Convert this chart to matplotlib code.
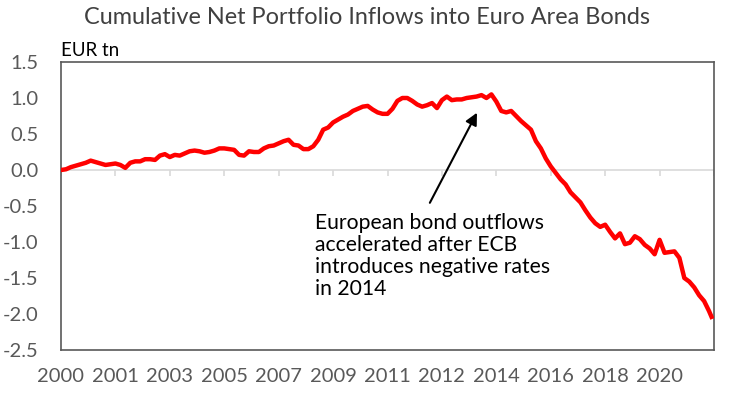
import numpy as np
import matplotlib
matplotlib.use("Agg")
import matplotlib.pyplot as plt

plt.rcParams['font.family'] = ['Lato', 'DejaVu Sans']

# month index since Jan 2000 (sampled every 2 months, plus final month)
months = list(range(0, 264, 2)) + [263]
values = [
    0.00, 0.01, 0.04, 0.06, 0.08, 0.10, 0.13, 0.11, 0.09, 0.07,
    0.08, 0.09, 0.07, 0.03, 0.10, 0.12, 0.12, 0.15, 0.15, 0.14,
    0.20, 0.22, 0.18, 0.21, 0.20, 0.23, 0.26, 0.27, 0.26, 0.24,
    0.25, 0.27, 0.30, 0.30, 0.29, 0.28, 0.21, 0.20, 0.26, 0.25,
    0.25, 0.30, 0.33, 0.34, 0.37, 0.40, 0.42, 0.35, 0.34, 0.29,
    0.29, 0.33, 0.42, 0.56, 0.59, 0.66, 0.70, 0.74, 0.77, 0.82,
    0.85, 0.88, 0.89, 0.84, 0.80, 0.78, 0.78, 0.85, 0.96, 1.00,
    1.00, 0.96, 0.91, 0.88, 0.90, 0.93, 0.86, 0.97, 1.02, 0.97,
    0.98, 0.98, 1.00, 1.01, 1.02, 1.04, 1.00, 1.05, 0.95, 0.82,
    0.80, 0.82, 0.75, 0.68, 0.62, 0.56, 0.40, 0.30, 0.16, 0.05,
    -0.04, -0.13, -0.20, -0.31, -0.38, -0.45, -0.56, -0.66, -0.74, -0.79,
    -0.76, -0.86, -0.95, -0.88, -1.03, -1.01, -0.92, -0.96, -1.04, -1.09,
    -1.17, -0.97, -1.15, -1.14, -1.13, -1.22, -1.50, -1.55, -1.63, -1.74,
    -1.82, -1.96, -2.04,
]

tick_months = list(range(0, 265, 22))
tick_labels = ["2000", "2001", "2003", "2005", "2007", "2009", "2011",
               "2012", "2014", "2016", "2018", "2020", ""]
y_ticks = [1.5, 1.0, 0.5, 0.0, -0.5, -1.0, -1.5, -2.0, -2.5]

title = "Cumulative Net Portfolio Inflows into Euro Area Bonds"
unit = "EUR tn"
note = "European bond outflows\naccelerated after ECB\nintroduces negative rates\nin 2014"

gray = "#595959"

fig = plt.figure(figsize=(7.4, 3.94), dpi=100)
ax = fig.add_axes([61/740, 44/394, 653/740, 288/394])

ax.set_xlim(0, 264)
ax.set_ylim(-2.5, 1.5)

ax.axhline(0, color="#d9d9d9", lw=1.2, zorder=1)
ax.vlines(tick_months, -0.08, 0, color="#d9d9d9", lw=1.2, zorder=1)

ax.plot(months, values, color="#ff0000", lw=3.2, zorder=3, solid_joinstyle="round")

ax.set_xticks(tick_months)
ax.set_xticklabels(tick_labels)
ax.set_yticks(y_ticks)
ax.set_yticklabels([f"{v:.1f}" for v in y_ticks])
ax.tick_params(axis="both", length=0, labelsize=14.5, colors=gray)
ax.tick_params(axis="y", pad=16)
ax.tick_params(axis="x", pad=13)

for s in ax.spines.values():
    s.set_color(gray)
    s.set_linewidth(1.2)

fig.text(367/740, 1 - 17/394, title, ha="center", va="center",
         fontsize=16.9, color="#404040")
ax.text(0, 1.01, unit, transform=ax.transAxes, ha="left", va="bottom",
        fontsize=13.5, color="black")

ax.annotate("", xy=(168.7, 0.83), xytext=(148.6, -0.49),
            arrowprops=dict(arrowstyle="-|>", color="black", lw=1.5,
                            mutation_scale=18))
ax.text(102.5, -0.60, note, ha="left", va="top", fontsize=15.2,
        color="black", linespacing=1.12)

fig.savefig("out.png", dpi=100)
